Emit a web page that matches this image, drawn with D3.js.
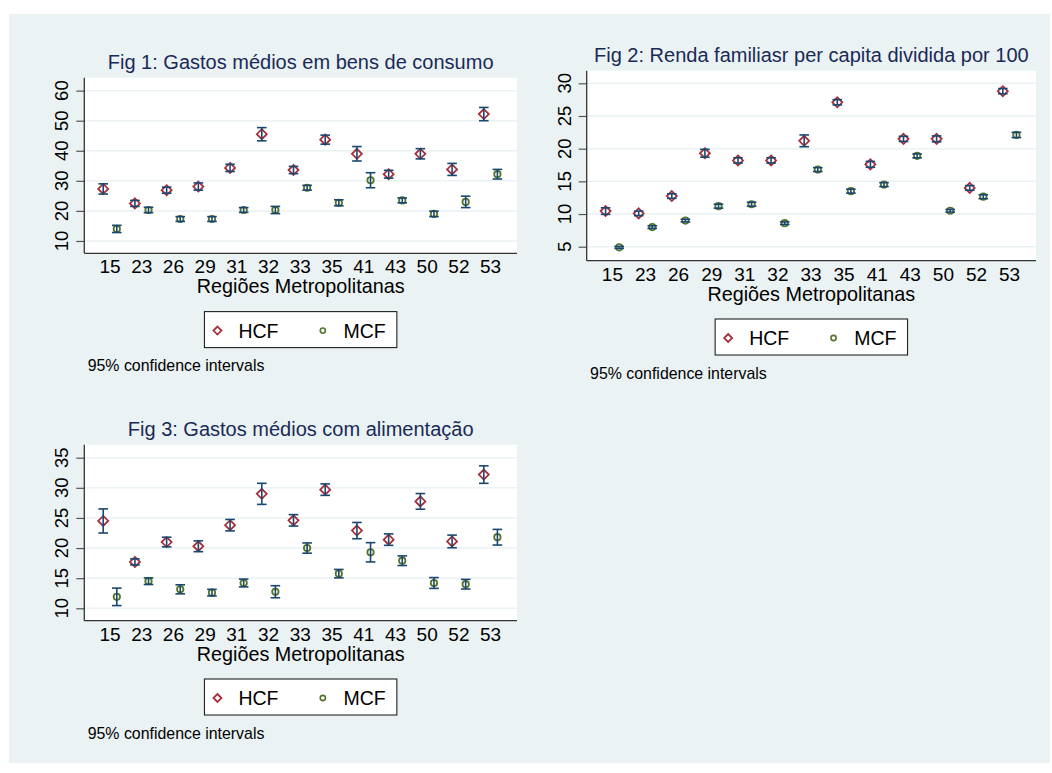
<!DOCTYPE html>
<html>
<head>
<meta charset="utf-8">
<script src="https://cdn.jsdelivr.net/npm/d3@7"></script>
<style>
  body { margin: 0; background: #fff; }
  svg text { font-family: 'Liberation Sans', Arial, Helvetica, sans-serif; }
</style>
</head>
<body>
<div id="chart"></div>
<script>
// regiões metropolitanas (x categories)
const regioes = ['15', '23', '26', '29', '31', '32', '33', '35', '41', '43', '50', '52', '53'];

// Fig 1: gastos médios em bens de consumo (mean, half-width of 95% CI)
const fig1HcfMean = [27.3, 22.5, 26.9, 28.1, 34.3, 45.5, 33.6, 43.7, 39.0, 32.2, 39.0, 33.8, 52.2];
const fig1HcfCi = [1.7, 1.0, 1.0, 1.2, 1.2, 2.2, 1.2, 1.5, 2.4, 1.3, 1.7, 2.0, 2.2];
const fig1McfMean = [14.0, 20.3, 17.3, 17.3, 20.3, 20.3, 27.7, 22.7, 30.2, 23.5, 19.0, 23.0, 32.2];
const fig1McfCi = [1.2, 0.9, 0.8, 0.8, 0.8, 1.2, 0.8, 1.0, 2.5, 0.8, 0.9, 1.9, 1.6];
const fig1Ticks = [10, 20, 30, 40, 50, 60];

// Fig 2: renda familiar per capita / 100
const fig2HcfMean = [10.45, 10.1, 12.75, 19.3, 18.2, 18.2, 21.2, 27.1, 17.6, 21.5, 21.5, 14.0, 28.8];
const fig2HcfCi = [0.5, 0.35, 0.35, 0.6, 0.4, 0.4, 0.9, 0.4, 0.45, 0.4, 0.45, 0.35, 0.4];
const fig2McfMean = [4.9, 8.0, 9.0, 11.2, 11.5, 8.6, 16.8, 13.5, 14.5, 18.9, 10.5, 12.65, 22.1];
const fig2McfCi = [0.15, 0.2, 0.2, 0.3, 0.3, 0.2, 0.3, 0.3, 0.3, 0.3, 0.2, 0.3, 0.4];
const fig2Ticks = [5, 10, 15, 20, 25, 30];

// Fig 3: gastos médios com alimentação
const fig3HcfMean = [24.5, 17.7, 21.0, 20.3, 23.8, 29.0, 24.6, 29.7, 22.9, 21.4, 27.75, 21.1, 32.2];
const fig3HcfCi = [2.0, 0.5, 0.8, 0.9, 0.95, 1.75, 0.95, 0.95, 1.35, 0.95, 1.3, 1.05, 1.45];
const fig3McfMean = [11.9, 14.5, 13.15, 12.6, 14.2, 12.75, 20.0, 15.75, 19.3, 17.9, 14.2, 14.0, 21.8];
const fig3McfCi = [1.45, 0.55, 0.75, 0.55, 0.65, 1.0, 0.85, 0.7, 1.6, 0.8, 0.9, 0.8, 1.3];
const fig3Ticks = [10, 15, 20, 25, 30, 35];

const grupos = ['HCF', 'MCF'];

const W = 1052, H = 773;
const bg = '#eaf2f3';
const navy = '#1a476f';
const maroon = '#a5303c';
const green = '#55752f';

const svg = d3.select('#chart').append('svg')
  .attr('width', W)
  .attr('height', H);

svg.append('rect')
  .attr('x', 9).attr('y', 14)
  .attr('width', 1041).attr('height', 749)
  .attr('fill', bg);

function diamondPath(r) {
  return 'M0,' + (-r) + 'L' + r + ',0L0,' + r + 'L' + (-r) + ',0Z';
}

function drawPanel(p) {
  const g = svg.append('g');
  const x = d3.scalePoint()
    .domain(regioes)
    .range([p.left + 25.7, p.right - 26.4]);
  const y = d3.scaleLinear()
    .domain(p.yDomain)
    .range([p.bottom, p.top]);

  g.append('rect')
    .attr('x', p.left).attr('y', p.top)
    .attr('width', p.right - p.left).attr('height', p.bottom - p.top)
    .attr('fill', '#fff');

  // grid
  g.selectAll('.grid')
    .data(p.ticks)
    .enter()
    .append('line')
    .attr('x1', p.left).attr('x2', p.right)
    .attr('y1', (d) => y(d)).attr('y2', (d) => y(d))
    .attr('stroke', bg)
    .attr('stroke-width', 1.5);

  // y axis
  const yAxis = d3.axisLeft(y).tickValues(p.ticks).tickSize(8).tickFormat('');
  const ya = g.append('g')
    .attr('transform', 'translate(' + p.left + ',0)')
    .call(yAxis);
  ya.select('.domain').remove();
  ya.selectAll('.tick line').attr('stroke', '#555').attr('stroke-width', 1.2);

  g.selectAll('.ylab')
    .data(p.ticks)
    .enter()
    .append('text')
    .attr('transform', (d) => 'translate(' + (p.left - 16) + ',' + y(d) + ') rotate(-90)')
    .attr('text-anchor', 'middle')
    .attr('font-size', 18.5)
    .attr('fill', '#000')
    .text((d) => d);

  g.append('line')
    .attr('x1', p.left).attr('x2', p.left)
    .attr('y1', p.top).attr('y2', p.bottom)
    .attr('stroke', '#333').attr('stroke-width', 1.3);
  g.append('line')
    .attr('x1', p.left).attr('x2', p.right)
    .attr('y1', p.bottom).attr('y2', p.bottom)
    .attr('stroke', '#333').attr('stroke-width', 1.3);

  // x labels
  g.selectAll('.xlab')
    .data(regioes)
    .enter()
    .append('text')
    .attr('x', (d) => x(d))
    .attr('y', p.bottom + 20)
    .attr('text-anchor', 'middle')
    .attr('font-size', 19)
    .attr('fill', '#000')
    .text((d) => d);

  g.append('text')
    .attr('x', (p.left + p.right) / 2)
    .attr('y', p.bottom + 40)
    .attr('text-anchor', 'middle')
    .attr('font-size', 19.8)
    .attr('fill', '#000')
    .text('Regiões Metropolitanas');

  g.append('text')
    .attr('x', (p.left + p.right) / 2)
    .attr('y', p.top - 8.4)
    .attr('text-anchor', 'middle')
    .attr('font-size', 20)
    .attr('fill', '#1a2a57')
    .text(p.title);

  const off = 6.8;
  const hcf = regioes.map((r, i) => ({ r: r, m: p.hcfMean[i], ci: p.hcfCi[i] }));
  const mcf = regioes.map((r, i) => ({ r: r, m: p.mcfMean[i], ci: p.mcfCi[i] }));

  // markers
  g.selectAll('.hcf')
    .data(hcf)
    .enter()
    .append('path')
    .attr('d', diamondPath(5))
    .attr('transform', (d) => 'translate(' + (x(d.r) - off) + ',' + y(d.m) + ')')
    .attr('fill', 'none')
    .attr('stroke', maroon)
    .attr('stroke-width', 1.8);
  g.selectAll('.mcf')
    .data(mcf)
    .enter()
    .append('circle')
    .attr('cx', (d) => x(d.r) + off)
    .attr('cy', (d) => y(d.m))
    .attr('r', 3.2)
    .attr('fill', 'none')
    .attr('stroke', green)
    .attr('stroke-width', 1.8);

  // error bars on top
  const bars = hcf.map((d) => ({ cx: x(d.r) - off, lo: d.m - d.ci, hi: d.m + d.ci }))
    .concat(mcf.map((d) => ({ cx: x(d.r) + off, lo: d.m - d.ci, hi: d.m + d.ci })));
  const eb = g.selectAll('.eb')
    .data(bars)
    .enter()
    .append('g')
    .attr('stroke', navy)
    .attr('stroke-width', 1.6);
  eb.append('line')
    .attr('x1', (d) => d.cx).attr('x2', (d) => d.cx)
    .attr('y1', (d) => y(d.lo)).attr('y2', (d) => y(d.hi));
  eb.append('line')
    .attr('x1', (d) => d.cx - 4.8).attr('x2', (d) => d.cx + 4.8)
    .attr('y1', (d) => y(d.lo)).attr('y2', (d) => y(d.lo));
  eb.append('line')
    .attr('x1', (d) => d.cx - 4.8).attr('x2', (d) => d.cx + 4.8)
    .attr('y1', (d) => y(d.hi)).attr('y2', (d) => y(d.hi));

  // legend
  const cx = (p.left + p.right) / 2;
  const lx = cx - 96.2, ly = p.bottom + 58.3;
  const lg = g.append('g').attr('transform', 'translate(' + lx + ',' + ly + ')');
  lg.append('rect')
    .attr('width', 192.4).attr('height', 36)
    .attr('fill', '#fff')
    .attr('stroke', '#222').attr('stroke-width', 1.1);
  lg.append('path')
    .attr('d', diamondPath(4))
    .attr('transform', 'translate(13,19)')
    .attr('fill', 'none').attr('stroke', maroon).attr('stroke-width', 1.8);
  lg.append('circle')
    .attr('cx', 118.4).attr('cy', 19).attr('r', 2.6)
    .attr('fill', 'none').attr('stroke', green).attr('stroke-width', 1.6);
  lg.selectAll('.lt')
    .data(grupos)
    .enter()
    .append('text')
    .attr('x', (d, i) => (i === 0 ? 34 : 139))
    .attr('y', 26)
    .attr('font-size', 19.5)
    .attr('fill', '#000')
    .text((d) => d);

  g.append('text')
    .attr('x', p.left + 3.4)
    .attr('y', p.bottom + 118)
    .attr('font-size', 15.9)
    .attr('fill', '#000')
    .text('95% confidence intervals');
}

drawPanel({
  title: 'Fig 1: Gastos médios em bens de consumo',
  left: 84.3, right: 517, top: 77.7, bottom: 253.3,
  yDomain: [5.9, 64.3], ticks: fig1Ticks,
  hcfMean: fig1HcfMean, hcfCi: fig1HcfCi, mcfMean: fig1McfMean, mcfCi: fig1McfCi,
});
drawPanel({
  title: 'Fig 2: Renda familiasr per capita dividida por 100',
  left: 586.7, right: 1036, top: 70.7, bottom: 260.7,
  yDomain: [2.86, 31.93], ticks: fig2Ticks,
  hcfMean: fig2HcfMean, hcfCi: fig2HcfCi, mcfMean: fig2McfMean, mcfCi: fig2McfCi,
});
drawPanel({
  title: 'Fig 3: Gastos médios com alimentação',
  left: 84.3, right: 517, top: 444.7, bottom: 620.7,
  yDomain: [7.94, 37.16], ticks: fig3Ticks,
  hcfMean: fig3HcfMean, hcfCi: fig3HcfCi, mcfMean: fig3McfMean, mcfCi: fig3McfCi,
});
</script>
</body>
</html>
